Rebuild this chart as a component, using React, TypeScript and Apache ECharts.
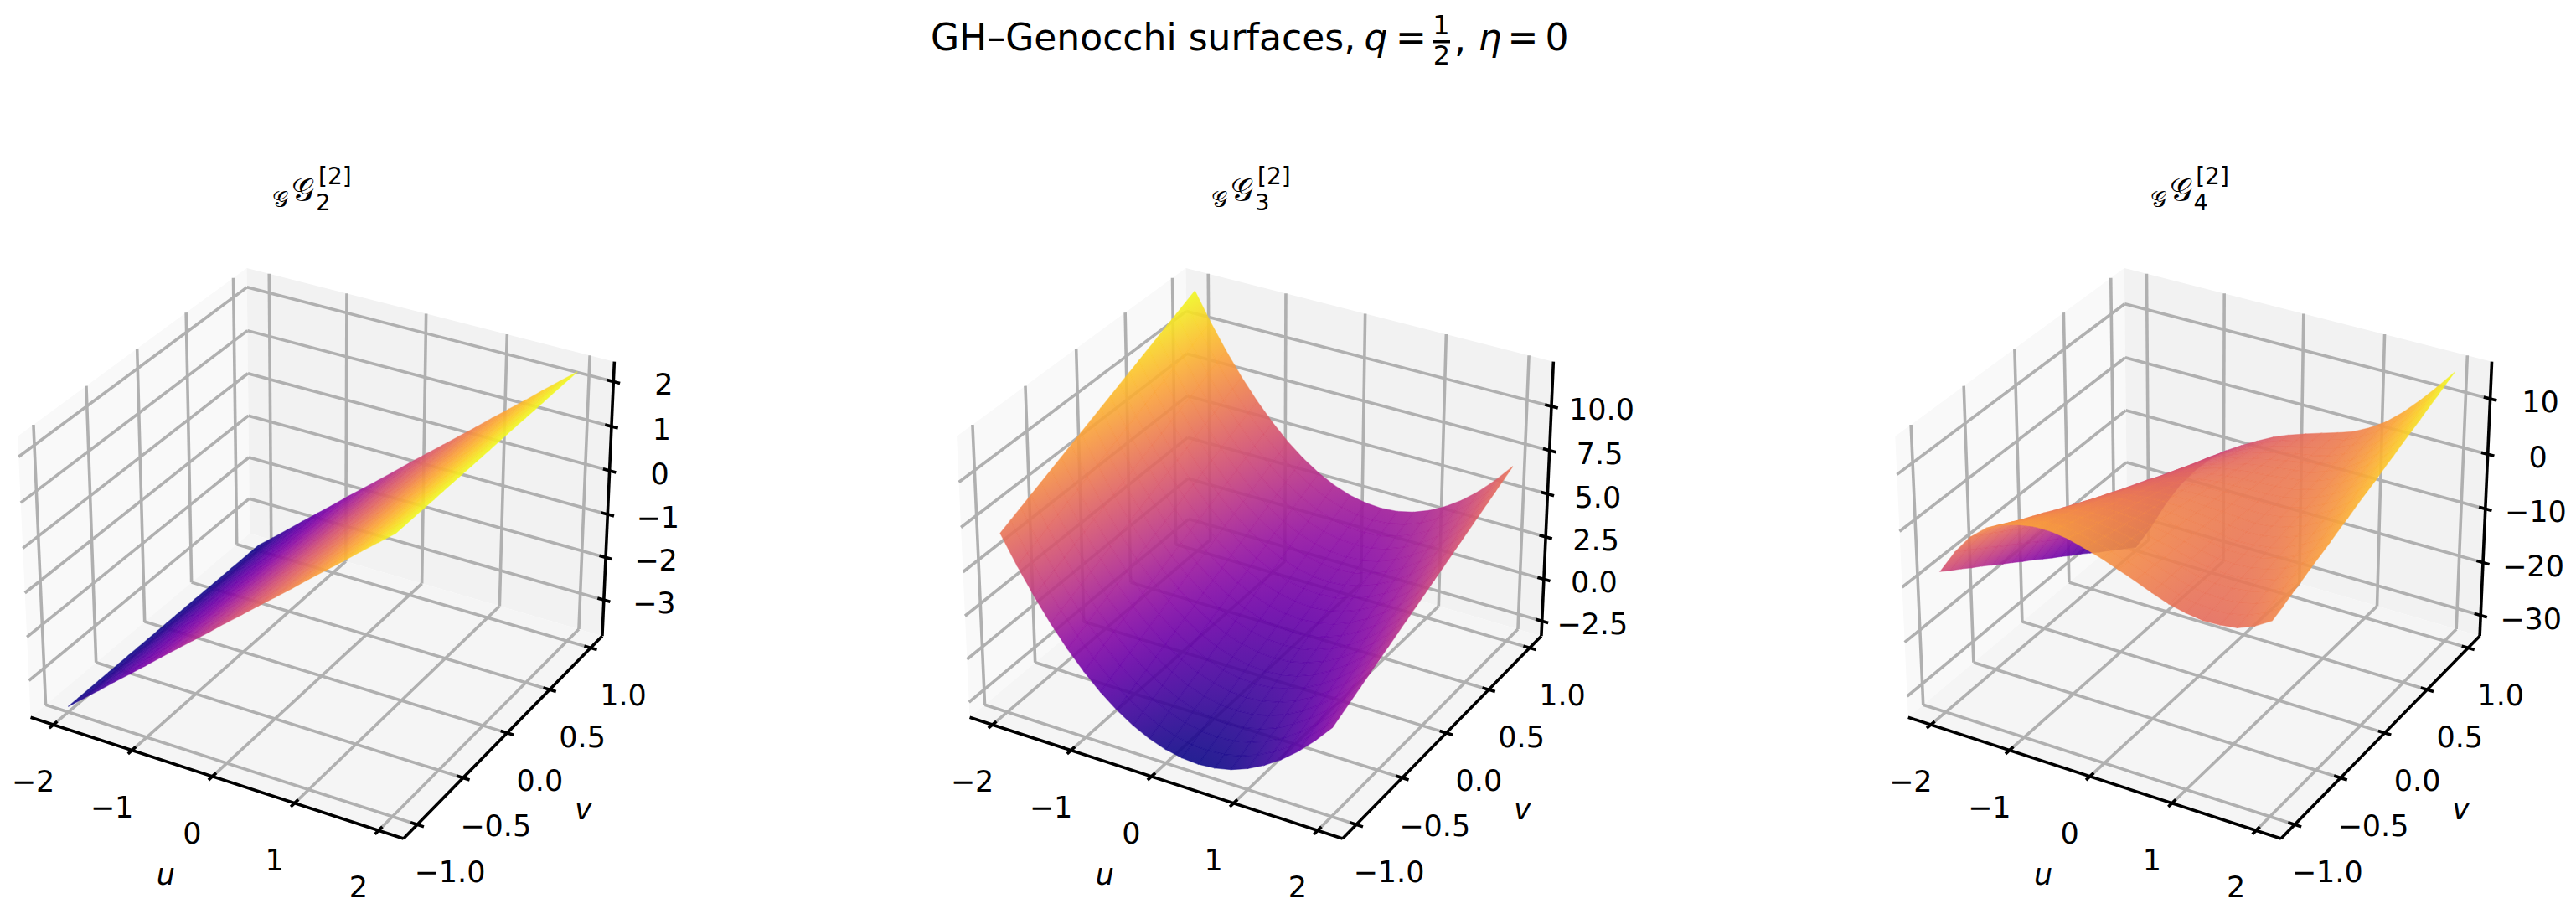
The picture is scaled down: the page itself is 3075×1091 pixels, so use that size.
import React, { useEffect, useRef } from "react";
import * as echarts from "echarts";

const uGrid = [-2, -1.8, -1.6, -1.4, -1.2, -1, -0.8, -0.6, -0.4, -0.2, 0, 0.2, 0.4, 0.6, 0.8, 1, 1.2, 1.4, 1.6, 1.8, 2];
const vGrid = [-1, -0.9, -0.8, -0.7, -0.6, -0.5, -0.4, -0.3, -0.2, -0.1, 0, 0.1, 0.2, 0.3, 0.4, 0.5, 0.6, 0.7, 0.8, 0.9, 1];
const uTicks = [-2, -1, 0, 1, 2];
const vTicks = [-1, -0.5, 0, 0.5, 1];
const vTickLabels = ["\u22121.0", "\u22120.5", "0.0", "0.5", "1.0"];
const zTicks1 = [-3, -2, -1, 0, 1, 2];
const zTicks2 = [-2.5, 0, 2.5, 5, 7.5, 10];
const zTicks3 = [-30, -20, -10, 0, 10];
const zPane1 = [-3.857, 2.44];
const zPane2 = [-3.4, 12.5];
const zPane3 = [-33.95, 16.6];

// G2 does not change with v: one height per u
const surface1ByU = [-3.73, -3.43, -3.13, -2.82, -2.52, -2.22, -1.91, -1.61, -1.31, -1.01, -0.7, -0.4, -0.1, 0.2, 0.5, 0.81, 1.11, 1.41, 1.72, 2.02, 2.32];

// rows: u, columns: v
const surface2 = [
  [6.89,7.15,7.41,7.67,7.93,8.19,8.45,8.71,8.97,9.23,9.49,9.75,10.01,10.27,10.53,10.79,11.05,11.31,11.57,11.83,12.09],
  [5.32,5.58,5.84,6.10,6.36,6.62,6.88,7.14,7.40,7.66,7.92,8.18,8.44,8.70,8.96,9.22,9.48,9.74,10.00,10.26,10.52],
  [3.89,4.15,4.41,4.67,4.93,5.19,5.45,5.71,5.97,6.23,6.49,6.75,7.01,7.27,7.53,7.79,8.05,8.31,8.57,8.83,9.09],
  [2.60,2.86,3.12,3.38,3.64,3.90,4.16,4.42,4.68,4.94,5.20,5.46,5.72,5.98,6.24,6.50,6.76,7.02,7.28,7.54,7.80],
  [1.44,1.70,1.96,2.22,2.48,2.74,3.00,3.26,3.52,3.78,4.04,4.30,4.56,4.82,5.08,5.34,5.60,5.86,6.12,6.38,6.64],
  [.43,.69,.95,1.21,1.47,1.73,1.99,2.25,2.51,2.77,3.03,3.29,3.55,3.81,4.07,4.33,4.59,4.85,5.11,5.37,5.63],
  [-.46,-.20,.06,.32,.58,.84,1.10,1.36,1.62,1.88,2.14,2.40,2.66,2.92,3.18,3.44,3.70,3.96,4.22,4.48,4.74],
  [-1.20,-.94,-.68,-.42,-.16,.10,.36,.62,.88,1.14,1.40,1.66,1.92,2.18,2.44,2.70,2.96,3.22,3.48,3.74,4.00],
  [-1.80,-1.54,-1.28,-1.02,-.76,-.50,-.24,.02,.28,.54,.80,1.06,1.32,1.58,1.84,2.10,2.36,2.62,2.88,3.14,3.40],
  [-2.27,-2.01,-1.75,-1.49,-1.23,-.97,-.71,-.45,-.19,.07,.33,.59,.85,1.11,1.37,1.63,1.89,2.15,2.41,2.67,2.93],
  [-2.60,-2.34,-2.08,-1.82,-1.56,-1.30,-1.04,-.78,-.52,-.26,0,.26,.52,.78,1.04,1.30,1.56,1.82,2.08,2.34,2.60],
  [-2.79,-2.53,-2.27,-2.01,-1.75,-1.49,-1.23,-.97,-.71,-.45,-.19,.07,.33,.59,.85,1.11,1.37,1.63,1.89,2.15,2.41],
  [-2.85,-2.59,-2.33,-2.07,-1.81,-1.55,-1.29,-1.03,-.77,-.51,-.25,.01,.27,.53,.79,1.05,1.31,1.57,1.83,2.09,2.35],
  [-2.77,-2.51,-2.25,-1.99,-1.73,-1.47,-1.21,-.95,-.69,-.43,-.17,.09,.35,.61,.87,1.13,1.39,1.65,1.91,2.17,2.43],
  [-2.55,-2.29,-2.03,-1.77,-1.51,-1.25,-.99,-.73,-.47,-.21,.05,.31,.57,.83,1.09,1.35,1.61,1.87,2.13,2.39,2.65],
  [-2.19,-1.93,-1.67,-1.41,-1.15,-.89,-.63,-.37,-.11,.15,.41,.67,.93,1.19,1.45,1.71,1.97,2.23,2.49,2.75,3.01],
  [-1.69,-1.43,-1.17,-.91,-.65,-.39,-.13,.13,.39,.65,.91,1.17,1.43,1.69,1.95,2.21,2.47,2.73,2.99,3.25,3.51],
  [-1.06,-.80,-.54,-.28,-.02,.24,.50,.76,1.02,1.28,1.54,1.80,2.06,2.32,2.58,2.84,3.10,3.36,3.62,3.88,4.14],
  [-.29,-.03,.23,.49,.75,1.01,1.27,1.53,1.79,2.05,2.31,2.57,2.83,3.09,3.35,3.61,3.87,4.13,4.39,4.65,4.91],
  [.62,.88,1.14,1.40,1.66,1.92,2.18,2.44,2.70,2.96,3.22,3.48,3.74,4.00,4.26,4.52,4.78,5.04,5.30,5.56,5.82],
  [1.66,1.92,2.18,2.44,2.70,2.96,3.22,3.48,3.74,4.00,4.26,4.52,4.78,5.04,5.30,5.56,5.82,6.08,6.34,6.60,6.86],
];

const surface3 = [
  [-8.1,-9.4,-10.6,-11.9,-13.1,-14.4,-15.7,-16.9,-18.2,-19.4,-20.7,-22.0,-23.2,-24.5,-25.7,-27.0,-28.3,-29.5,-30.8,-32.0,-33.3],
  [-3.7,-4.9,-6.2,-7.4,-8.7,-9.9,-11.2,-12.4,-13.7,-14.9,-16.2,-17.4,-18.6,-19.9,-21.1,-22.4,-23.6,-24.9,-26.1,-27.4,-28.6],
  [-.2,-1.4,-2.5,-3.7,-4.8,-6.0,-7.1,-8.3,-9.4,-10.6,-11.7,-12.9,-14.0,-15.2,-16.3,-17.5,-18.6,-19.8,-20.9,-22.1,-23.2],
  [2.2,1.2,.1,-.9,-2.0,-3.0,-4.0,-5.1,-6.1,-7.2,-8.2,-9.2,-10.3,-11.3,-12.4,-13.4,-14.4,-15.5,-16.5,-17.6,-18.6],
  [3.6,2.7,1.7,.8,-.1,-1.1,-2.0,-2.9,-3.8,-4.8,-5.7,-6.6,-7.6,-8.5,-9.4,-10.4,-11.3,-12.2,-13.1,-14.1,-15.0],
  [4.5,3.7,2.9,2.0,1.2,.4,-.5,-1.3,-2.1,-2.9,-3.8,-4.6,-5.4,-6.2,-7.1,-7.9,-8.7,-9.5,-10.4,-11.2,-12.0],
  [5.0,4.3,3.5,2.8,2.1,1.3,.6,-.1,-.9,-1.6,-2.4,-3.1,-3.8,-4.6,-5.3,-6.0,-6.8,-7.5,-8.2,-9.0,-9.7],
  [5.0,4.4,3.7,3.1,2.4,1.8,1.1,.5,-.2,-.8,-1.5,-2.1,-2.7,-3.4,-4.0,-4.7,-5.3,-6.0,-6.6,-7.3,-7.9],
  [4.6,4.1,3.5,3.0,2.4,1.9,1.3,.8,.2,-.3,-.9,-1.4,-1.9,-2.5,-3.0,-3.6,-4.1,-4.7,-5.2,-5.8,-6.3],
  [3.8,3.4,2.9,2.5,2.1,1.7,1.2,.8,.4,-.1,-.5,-.9,-1.4,-1.8,-2.2,-2.7,-3.1,-3.5,-3.9,-4.4,-4.8],
  [2.9,2.6,2.3,1.9,1.6,1.3,1.0,.6,.3,0,-.4,-.7,-1.0,-1.3,-1.7,-2.0,-2.3,-2.6,-3.0,-3.3,-3.6],
  [1.8,1.6,1.4,1.1,.9,.7,.5,.3,0,-.2,-.4,-.6,-.8,-1.1,-1.3,-1.5,-1.7,-1.9,-2.2,-2.4,-2.6],
  [.7,.6,.5,.3,.2,.1,0,-.1,-.3,-.4,-.5,-.6,-.7,-.9,-1.0,-1.1,-1.2,-1.3,-1.5,-1.6,-1.7],
  [-.5,-.5,-.5,-.5,-.6,-.6,-.6,-.6,-.6,-.6,-.7,-.7,-.7,-.7,-.7,-.7,-.7,-.8,-.8,-.8,-.8],
  [-1.6,-1.5,-1.4,-1.3,-1.2,-1.2,-1.1,-1.0,-.9,-.8,-.7,-.6,-.5,-.4,-.3,-.3,-.2,-.1,0,.1,.2],
  [-2.3,-2.1,-1.9,-1.7,-1.5,-1.3,-1.1,-.9,-.7,-.5,-.3,-.1,.1,.3,.5,.7,.9,1.1,1.3,1.5,1.7],
  [-2.7,-2.3,-2.0,-1.7,-1.4,-1.1,-.8,-.5,-.2,.2,.5,.8,1.1,1.4,1.7,2.0,2.3,2.7,3.0,3.3,3.6],
  [-2.6,-2.2,-1.7,-1.3,-.9,-.4,0,.4,.9,1.3,1.8,2.2,2.6,3.1,3.5,3.9,4.4,4.8,5.2,5.7,6.1],
  [-2.2,-1.6,-1.0,-.5,.1,.6,1.2,1.8,2.3,2.9,3.4,4.0,4.5,5.1,5.7,6.2,6.8,7.3,7.9,8.4,9.0],
  [-1.0,-.3,.3,1.0,1.6,2.3,3.0,3.6,4.3,4.9,5.6,6.3,6.9,7.6,8.2,8.9,9.6,10.2,10.9,11.5,12.2],
  [.8,1.5,2.3,3.0,3.8,4.5,5.2,6.0,6.7,7.5,8.2,8.9,9.7,10.4,11.2,11.9,12.6,13.4,14.1,14.9,15.6],
];

const plasma = ["#0d0887", "#41049d", "#6a00a8", "#8f0da4", "#b12a90", "#cc4778", "#e16462", "#f1844b", "#fca636", "#fcce25", "#f0f921"];

const FONT = '"DejaVu Sans", sans-serif';
const GRID_COLOR = "#b0b0b0";
const LW = 3.6;
const SCALE = 446.3;
const CY = 644.7;
const BOX = 1.1429;
const BOXZ = 0.8571;
const U_R = 2.2917;
const V_R = 1.1458;

function hex(c: string) {
  return [1, 3, 5].map((k) => parseInt(c.slice(k, k + 2), 16));
}
function plasmaAt(t: number, alpha: number) {
  const p = Math.max(0, Math.min(1, t)) * (plasma.length - 1);
  const i = Math.min(plasma.length - 2, Math.floor(p));
  const a = hex(plasma[i]);
  const b = hex(plasma[i + 1]);
  const f = p - i;
  const m = [0, 1, 2].map((k) => Math.round(a[k] + (b[k] - a[k]) * f));
  return `rgba(${m[0]},${m[1]},${m[2]},${alpha})`;
}

// matplotlib's default 3-D view: elevation 30, azimuth -60, fractions of the pane box
function proj(cx: number, fx: number, fy: number, fz: number) {
  const dx = (fx - 0.5) * BOX;
  const dy = (fy - 0.5) * BOX;
  const dz = (fz - 0.5) * BOXZ;
  const a = 0.866 * dx + 0.5 * dy;
  const b = -0.25 * dx + 0.433 * dy + 0.866 * dz;
  const c = 0.433 * dx - 0.75 * dy + 0.5 * dz;
  const f = 10 / (10 - c);
  return { x: cx + a * f * SCALE, y: CY - b * f * SCALE, depth: c };
}
const fu = (u: number) => (u + U_R) / (2 * U_R);
const fv = (v: number) => (v + V_R) / (2 * V_R);

function frameChildren(cx: number, zPane: number[], zTicks: number[], zLabels: string[], sub: string) {
  const fz = (z: number) => (z - zPane[0]) / (zPane[1] - zPane[0]);
  const P = (x: number, y: number, z: number) => {
    const p = proj(cx, x, y, z);
    return [p.x, p.y];
  };
  const kids: any[] = [];
  const pane = (pts: number[][], fill: string) =>
    kids.push({ type: "polygon", shape: { points: pts }, style: { fill, stroke: "none" } });
  const seg = (p: number[], q: number[], stroke: string) =>
    kids.push({ type: "line", shape: { x1: p[0], y1: p[1], x2: q[0], y2: q[1] }, style: { stroke, lineWidth: LW, fill: "none" } });
  const txt = (text: string, x: number, y: number, size: number, extra: any = {}) =>
    kids.push({
      type: "text",
      style: { text, x, y, fill: "#000", font: `${extra.italic ? "italic " : ""}${size}px ${FONT}`, align: "center", verticalAlign: "middle" },
    });

  pane([P(0, 0, 0), P(0, 1, 0), P(0, 1, 1), P(0, 0, 1)], "#f9f9f9");
  pane([P(0, 1, 0), P(1, 1, 0), P(1, 1, 1), P(0, 1, 1)], "#f2f2f2");
  pane([P(0, 0, 0), P(1, 0, 0), P(1, 1, 0), P(0, 1, 0)], "#f5f5f5");

  uTicks.forEach((u) => {
    const x = fu(u);
    seg(P(x, 0, 0), P(x, 1, 0), GRID_COLOR);
    seg(P(x, 1, 0), P(x, 1, 1), GRID_COLOR);
  });
  vTicks.forEach((v) => {
    const y = fv(v);
    seg(P(0, y, 0), P(1, y, 0), GRID_COLOR);
    seg(P(0, y, 0), P(0, y, 1), GRID_COLOR);
  });
  zTicks.forEach((z) => {
    const h = fz(z);
    seg(P(0, 0, h), P(0, 1, h), GRID_COLOR);
    seg(P(0, 1, h), P(1, 1, h), GRID_COLOR);
  });

  seg(P(0, 0, 0), P(1, 0, 0), "#000");
  seg(P(1, 0, 0), P(1, 1, 0), "#000");
  seg(P(1, 1, 0), P(1, 1, 1), "#000");

  uTicks.forEach((u) => {
    const x = fu(u);
    seg(P(x, 0.017, 0), P(x, -0.017, 0), "#000");
    const p = P(x, 0, 0);
    txt(u < 0 ? `\u2212${-u}` : `${u}`, p[0] - 24, p[1] + 68, 35);
  });
  vTicks.forEach((v, i) => {
    const y = fv(v);
    seg(P(0.983, y, 0), P(1.017, y, 0), "#000");
    const p = P(1, y, 0);
    txt(vTickLabels[i], p[0] + 39, p[1] + 57, 35);
  });
  zTicks.forEach((z, i) => {
    const h = fz(z);
    seg(P(0.983, 1, h), P(1.017, 1, h), "#000");
    const p = P(1, 1, h);
    txt(zLabels[i], p[0] + 60, p[1] + 4, 35);
  });

  txt("u", cx - 186, CY + 399, 35, { italic: true });
  txt("v", cx + 312.6, CY + 321, 35, { italic: true });

  // panel title
  txt("\u{1D4A2}", cx - 49, 237, 27);
  txt("\u{1D4A2}", cx - 22, 227, 38);
  txt(sub, cx + 2, 241, 27);
  txt("[2]", cx + 16, 210, 28);
  return kids;
}

function cellPaint(corners: number[][], ts: number[]) {
  const [A, B, C, D] = corners;
  const tm = (ts[0] + ts[1] + ts[2] + ts[3]) / 4;
  const cx = (A[0] + B[0] + C[0] + D[0]) / 4;
  const cy = (A[1] + B[1] + C[1] + D[1]) / 4;
  const e1 = [C[0] - A[0], C[1] - A[1]];
  const e2 = [D[0] - B[0], D[1] - B[1]];
  const det = e1[0] * e2[1] - e1[1] * e2[0];
  const d1 = ts[2] - ts[0];
  const d2 = ts[3] - ts[1];
  const flat = (alpha: number) => plasmaAt(tm, alpha);
  if (Math.abs(det) < 1) return flat;
  const gx = (d1 * e2[1] - d2 * e1[1]) / det;
  const gy = (e1[0] * d2 - e2[0] * d1) / det;
  const g2 = gx * gx + gy * gy;
  if (g2 < 1e-10) return flat;
  const off = corners.map((p) => gx * (p[0] - cx) + gy * (p[1] - cy));
  const lo = Math.min(...off);
  const hi = Math.max(...off);
  return (alpha: number) =>
    new (echarts.graphic as any).LinearGradient(
      cx + (gx * lo) / g2,
      cy + (gy * lo) / g2,
      cx + (gx * hi) / g2,
      cy + (gy * hi) / g2,
      [
        { offset: 0, color: plasmaAt(tm + lo, alpha) },
        { offset: 1, color: plasmaAt(tm + hi, alpha) },
      ],
      true
    );
}

function surfaceSeries(name: string, cx: number, zPane: number[], table: number[][]) {
  const fz = (z: number) => (z - zPane[0]) / (zPane[1] - zPane[0]);
  const all = table.flat();
  const lo = Math.min(...all);
  const hi = Math.max(...all);
  const cells: number[][] = [];
  for (let i = 0; i < uGrid.length - 1; i++) {
    for (let j = 0; j < vGrid.length - 1; j++) {
      const m = (table[i][j] + table[i + 1][j] + table[i][j + 1] + table[i + 1][j + 1]) / 4;
      const d = proj(cx, fu((uGrid[i] + uGrid[i + 1]) / 2), fv((vGrid[j] + vGrid[j + 1]) / 2), fz(m)).depth;
      cells.push([i, j, m, d]);
    }
  }
  cells.sort((p, q) => p[3] - q[3]);
  return {
    type: "custom",
    name,
    coordinateSystem: "none",
    silent: true,
    z: 3,
    progressive: 0,
    data: cells,
    renderItem: (params: any) => {
      const [i, j] = cells[params.dataIndex];
      const idx = [
        [i, j],
        [i + 1, j],
        [i + 1, j + 1],
        [i, j + 1],
      ];
      const corners = idx.map(([a, b]) => {
        const p = proj(cx, fu(uGrid[a]), fv(vGrid[b]), fz(table[a][b]));
        return [p.x, p.y];
      });
      const ts = idx.map(([a, b]) => (table[a][b] - lo) / (hi - lo));
      const paint = cellPaint(corners, ts);
      return {
        type: "polygon",
        shape: { points: corners },
        style: { fill: paint(0.9), stroke: paint(0.45), lineWidth: 1.2 },
      };
    },
  };
}

function frameSeries(name: string, cx: number, zPane: number[], zTicks: number[], zLabels: string[], sub: string) {
  return {
    type: "custom",
    name,
    coordinateSystem: "none",
    silent: true,
    z: 2,
    data: [0],
    renderItem: () => ({ type: "group", children: frameChildren(cx, zPane, zTicks, zLabels, sub) }),
  };
}

const CENTERS = [383.8, 1504.8, 2625];
const surface1 = surface1ByU.map((z) => vGrid.map(() => z));

const lab = (t: number) => (t < 0 ? `\u2212${-t}` : `${t}`);
const zLabels1 = zTicks1.map(lab);
const zLabels2 = ["\u22122.5", "0.0", "2.5", "5.0", "7.5", "10.0"];
const zLabels3 = zTicks3.map(lab);

function titleGraphics() {
  const T = (text: string, x: number, y: number, size: number, italic = false, align = "center") => ({
    type: "text",
    style: { text, x, y, fill: "#000", font: `${italic ? "italic " : ""}${size}px ${FONT}`, align, verticalAlign: "middle" },
  });
  return [
    T("GH\u2013Genocchi surfaces,", 1111, 44, 44, false, "left"),
    T("q", 1642.5, 44, 44, true),
    T("=", 1684.5, 44, 44),
    T("1", 1720.5, 30, 32),
    { type: "rect", shape: { x: 1711, y: 48, width: 20, height: 3.5 }, style: { fill: "#000" } },
    T("2", 1721, 66, 32),
    T(",", 1743, 46, 44),
    T("\u03b7", 1778.5, 44, 44, true),
    T("=", 1818, 44, 44),
    T("0", 1858.5, 44, 44),
  ];
}

export default function App() {
  const ref = useRef<HTMLDivElement>(null);
  useEffect(() => {
    document.body.style.margin = "0";
    const chart = echarts.init(ref.current!, undefined, { renderer: "svg" });
    chart.setOption({
      animation: false,
      backgroundColor: "#ffffff",
      graphic: titleGraphics(),
      series: [
        frameSeries("frame1", CENTERS[0], zPane1, zTicks1, zLabels1, "2"),
        frameSeries("frame2", CENTERS[1], zPane2, zTicks2, zLabels2, "3"),
        frameSeries("frame3", CENTERS[2], zPane3, zTicks3, zLabels3, "4"),
        surfaceSeries("surface1", CENTERS[0], zPane1, surface1),
        surfaceSeries("surface2", CENTERS[1], zPane2, surface2),
        surfaceSeries("surface3", CENTERS[2], zPane3, surface3),
      ],
    });
    return () => chart.dispose();
  }, []);
  return <div ref={ref} style={{ position: "fixed", left: 0, top: 0, width: 3075, height: 1091 }} />;
}
